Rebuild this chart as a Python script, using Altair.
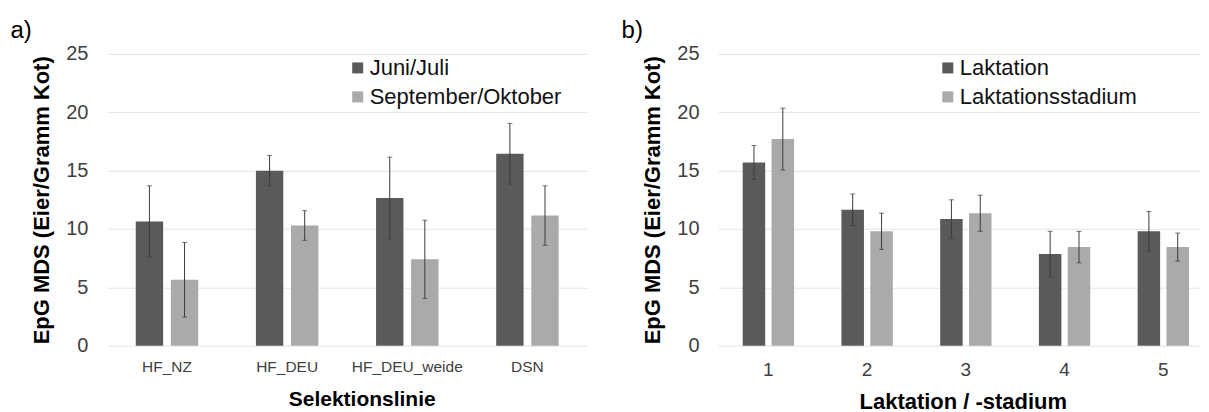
import altair as alt
import pandas as pd

# ---- panel a) data ----
lines_a = ["HF_NZ", "HF_DEU", "HF_DEU_weide", "DSN"]
series_a = ["Juni/Juli", "September/Oktober"]
juni_mean = [10.65, 15.0, 12.65, 16.45]
juni_err = [3.05, 1.3, 3.5, 2.6]
sept_mean = [5.65, 10.3, 7.4, 11.15]
sept_err = [3.2, 1.27, 3.35, 2.55]

# ---- panel b) data ----
lact_nr = ["1", "2", "3", "4", "5"]
series_b = ["Laktation", "Laktationsstadium"]
lakt_mean = [15.7, 11.65, 10.85, 7.85, 9.8]
lakt_err = [1.45, 1.35, 1.65, 1.95, 1.7]
stad_mean = [17.7, 9.8, 11.35, 8.45, 8.45]
stad_err = [2.65, 1.55, 1.55, 1.35, 1.2]

y_ticks = [0, 5, 10, 15, 20, 25]
y_title = "EpG MDS (Eier/Gramm Kot)"

DARK = "#5a5a5a"
LIGHT = "#aba9aa"
ERR = "#3c3c3c"
FONT = "Liberation Sans"
LABEL_COL = "#404040"


def make_df(cats, series, means, errs):
    rows = []
    for s, ms, es in zip(series, means, errs):
        for c, m, e in zip(cats, ms, es):
            rows.append({"cat": c, "series": s, "value": m, "lo": m - e, "hi": m + e})
    return pd.DataFrame(rows)


def panel(df, cats, series, x_title, tag, width, pad_outer, align, lab_size, title_size,
          title_x, title_y, lab_pad, leg_x):
    xscale = alt.Scale(paddingInner=0.48, paddingOuter=pad_outer, align=align)
    oscale = alt.Scale(paddingInner=0.22, paddingOuter=0)
    yscale = alt.Scale(domain=[0, 25], nice=False)
    x_ax = alt.Axis(title=x_title, labelAngle=0, labelFontSize=lab_size, labelFont=FONT,
                    labelColor=LABEL_COL, labelBaseline="alphabetic", labelPadding=lab_pad,
                    ticks=False, tickSize=0, domain=False, grid=False,
                    titleFontSize=title_size, titleFont=FONT, titleFontWeight="bold",
                    titleColor="black", titleX=title_x, titleY=title_y,
                    titleBaseline="alphabetic", titleAlign="center")
    y_ax = alt.Axis(title=y_title, values=y_ticks, labelFontSize=20, labelFont=FONT,
                    labelColor=LABEL_COL, labelPadding=19, ticks=False, tickSize=0,
                    domain=False, grid=True, gridColor="#e4e4e4", gridWidth=1,
                    titleFontSize=22, titleFont=FONT, titleFontWeight="bold",
                    titleColor="black", titlePadding=12)
    xe = alt.X("cat:N", sort=cats, scale=xscale, axis=x_ax)
    oe = alt.XOffset("series:N", sort=series, scale=oscale)
    base = alt.Chart(df)
    bars = base.mark_bar().encode(
        x=xe, xOffset=oe,
        y=alt.Y("value:Q", scale=yscale, axis=y_ax),
        color=alt.Color("series:N", sort=series,
                        scale=alt.Scale(domain=series, range=[DARK, LIGHT]),
                        legend=alt.Legend(title=None, orient="none", legendX=leg_x, legendY=3,
                                          symbolType="square", symbolSize=121,
                                          symbolStrokeWidth=0, symbolOpacity=1,
                                          labelFontSize=22, labelFont=FONT, labelColor="#111111",
                                          labelOffset=1, rowPadding=7, padding=0, labelLimit=0)),
    )
    rules = base.mark_rule(color=ERR, strokeWidth=1).encode(
        x=xe, xOffset=oe,
        y=alt.Y("lo:Q", scale=yscale, axis=y_ax), y2="hi:Q")
    cap_lo = base.mark_tick(color=ERR, thickness=1, size=5).encode(
        x=xe, xOffset=oe, y=alt.Y("lo:Q", scale=yscale, axis=y_ax))
    cap_hi = base.mark_tick(color=ERR, thickness=1, size=5).encode(
        x=xe, xOffset=oe, y=alt.Y("hi:Q", scale=yscale, axis=y_ax))
    tag_txt = alt.Chart(pd.DataFrame({"t": [tag]})).mark_text(
        align="left", baseline="alphabetic", fontSize=24, font=FONT, color="black"
    ).encode(x=alt.value(-96.5), y=alt.value(-16.3), text="t:N")
    return alt.layer(bars, rules, cap_lo, cap_hi, tag_txt).properties(width=width, height=292)


df_a = make_df(lines_a, series_a, [juni_mean, sept_mean], [juni_err, sept_err])
df_b = make_df(lact_nr, series_b, [lakt_mean, stad_mean], [lakt_err, stad_err])

left = panel(df_a, lines_a, series_a, "Selektionslinie", "a)", 481, 0.24, 0.5,
             15.5, 21, 255, 59.7, 25.7, 240)
right = panel(df_b, lact_nr, series_b, "Laktation / -stadium", "b)", 483, 0.184, 0.68,
              19, 22, 245, 63, 29.7, 219)

chart = alt.hconcat(left, right, spacing=130.6, bounds="flush").resolve_scale(
    color="independent", x="independent", xOffset="independent"
).properties(
    padding={"left": 2, "top": 9.8, "right": 0, "bottom": 0}
).configure(font=FONT, background="white").configure_view(stroke=None)

chart.save("out.html", embed_options={"renderer": "svg", "actions": False})
